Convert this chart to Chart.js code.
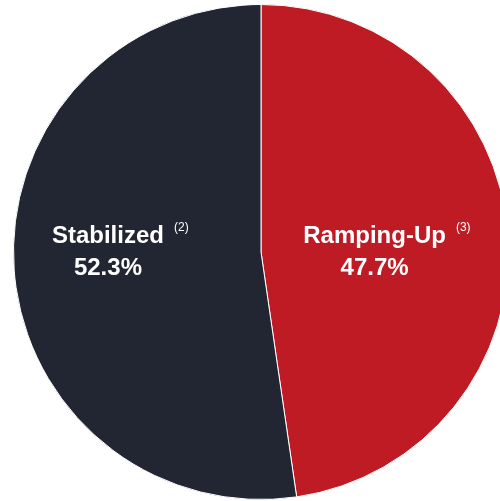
<!DOCTYPE html>
<html>
<head>
<meta charset="utf-8">
<script src="https://cdn.jsdelivr.net/npm/chart.js@4"></script>
<style>
  html, body { margin: 0; padding: 0; background: #fff; overflow: hidden; }
  #wrap { width: 500px; height: 501px; overflow: hidden; }
  canvas { display: block; }
</style>
</head>
<body>
<div id="wrap"><canvas id="pie" width="522" height="501"></canvas></div>
<script>
const labels = ["Ramping-Up", "Stabilized"];
const shares = [47.7, 52.3];
const notes = ["(3)", "(2)"];
const colors = ["#BE1B24", "#222532"];
// how far out along the radius each label sits
const labelDist = [0.46, 0.62];

// draws name, footnote marker and percentage inside each slice
const sliceLabels = {
  id: "sliceLabels",
  afterDatasetsDraw(chart) {
    const ctx = chart.ctx;
    const arcs = chart.getDatasetMeta(0).data;
    ctx.save();
    ctx.fillStyle = "#fff";
    ctx.textAlign = "center";
    ctx.textBaseline = "middle";
    arcs.forEach((arc, i) => {
      const mid = (arc.startAngle + arc.endAngle) / 2;
      const x = arc.x + Math.cos(mid) * arc.outerRadius * labelDist[i];
      const y = arc.y;
      ctx.font = "bold 24px 'Liberation Sans', Arial, sans-serif";
      ctx.fillText(labels[i], x, y - 16);
      ctx.fillText(shares[i].toFixed(1) + "%", x, y + 16);
      const w = ctx.measureText(labels[i]).width;
      ctx.font = "12px 'Liberation Sans', Arial, sans-serif";
      ctx.textAlign = "left";
      ctx.fillText(notes[i], x + w / 2 + 10, y - 24);
      ctx.textAlign = "center";
    });
    ctx.restore();
  },
};

new Chart(document.getElementById("pie"), {
  type: "pie",
  data: {
    labels: labels,
    datasets: [
      {
        data: shares,
        backgroundColor: colors,
        borderColor: "#fff",
        borderWidth: 1,
      },
    ],
  },
  options: {
    responsive: false,
    animation: false,
    layout: { padding: { top: 4, bottom: 1 } },
    plugins: {
      legend: { display: false },
      tooltip: { enabled: false },
    },
  },
  plugins: [sliceLabels],
});
</script>
</body>
</html>
